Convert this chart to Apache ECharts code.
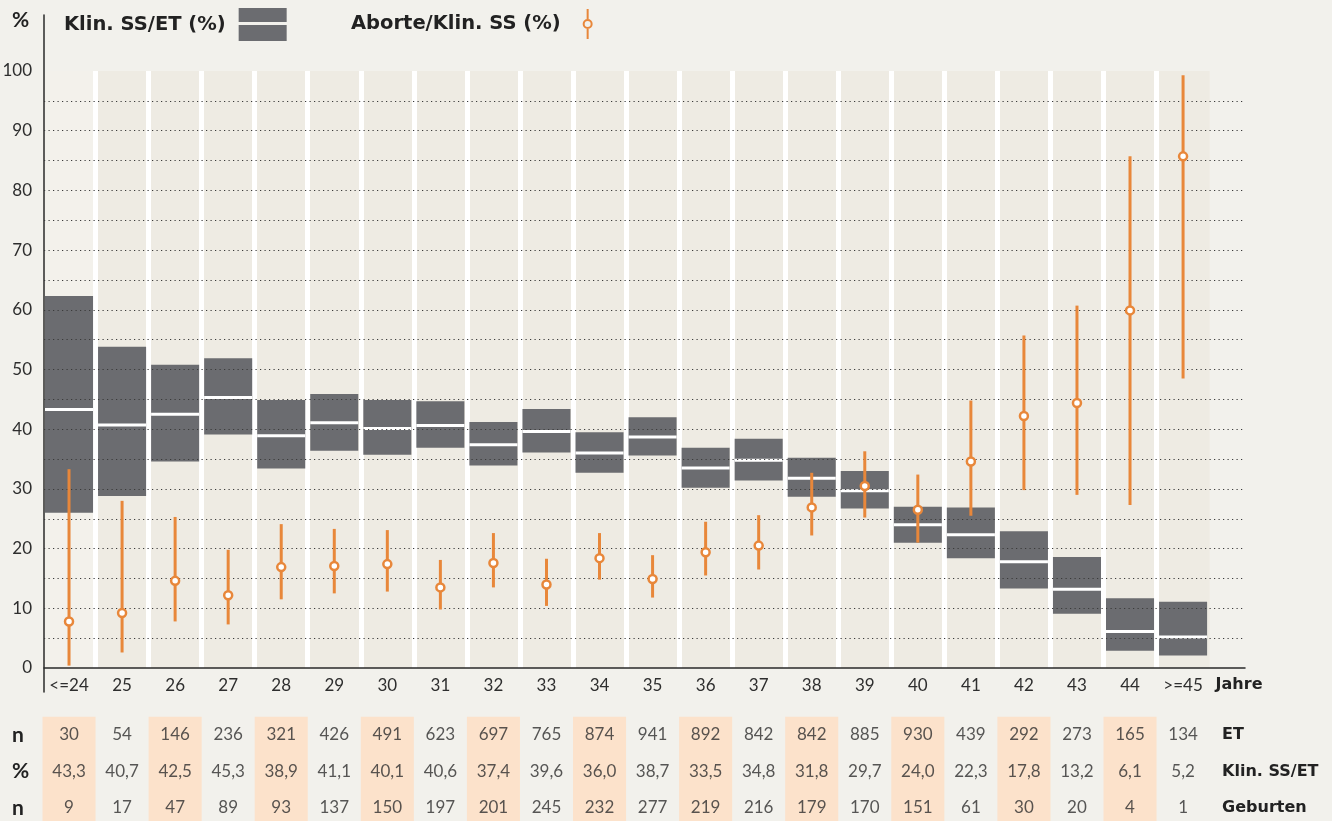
<!DOCTYPE html>
<html lang="de">
<head>
    <meta charset="UTF-8">
    <title>Klin. SS/ET und Aborte nach Alter</title>
    <script src="https://cdn.jsdelivr.net/npm/echarts@6/dist/echarts.min.js"></script>
    <style>
        html, body { margin: 0; padding: 0; background: #f2f1ec; }
        #main { width: 1332px; height: 821px; }
    </style>
</head>
<body>
    <div id="main"></div>
    <script type="text/javascript">
        // Altersgruppen
        var categories = ['<=24', '25', '26', '27', '28', '29', '30', '31', '32', '33', '34',
            '35', '36', '37', '38', '39', '40', '41', '42', '43', '44', '>=45'];

        // Klin. SS/ET (%): Wert und Vertrauensbereich
        var klinMid = [43.3, 40.7, 42.5, 45.3, 38.9, 41.1, 40.1, 40.6, 37.4, 39.6, 36.0,
            38.7, 33.5, 34.8, 31.8, 29.7, 24.0, 22.3, 17.8, 13.2, 6.1, 5.2];
        var klinLow = [26.0, 28.8, 34.6, 39.1, 33.4, 36.4, 35.7, 36.9, 33.9, 36.1, 32.7,
            35.6, 30.2, 31.4, 28.7, 26.7, 21.0, 18.4, 13.3, 9.1, 2.9, 2.1];
        var klinHigh = [62.3, 53.8, 50.8, 51.9, 44.9, 45.9, 44.9, 44.7, 41.2, 43.4, 39.5,
            42.0, 36.9, 38.4, 35.2, 33.0, 27.0, 26.9, 22.9, 18.6, 11.7, 11.1];

        // Aborte/Klin. SS (%)
        var abortVal = [7.8, 9.2, 14.6, 12.2, 16.9, 17.1, 17.4, 13.5, 17.6, 14.0, 18.4,
            14.9, 19.4, 20.5, 26.9, 30.5, 26.5, 34.6, 42.2, 44.4, 59.9, 85.7];
        var abortLow = [0.4, 2.6, 7.8, 7.3, 11.5, 12.5, 12.8, 9.8, 13.5, 10.4, 14.8,
            11.8, 15.5, 16.5, 22.2, 25.2, 21.0, 25.5, 29.8, 29.0, 27.3, 48.5];
        var abortHigh = [33.3, 28.0, 25.3, 19.8, 24.1, 23.3, 23.1, 18.1, 22.6, 18.3, 22.6,
            18.9, 24.5, 25.6, 32.7, 36.3, 32.4, 44.8, 55.7, 60.7, 85.7, 99.3];

        // Tabelle unten
        var etN = [30, 54, 146, 236, 321, 426, 491, 623, 697, 765, 874, 941, 892, 842,
            842, 885, 930, 439, 292, 273, 165, 134];
        var geburtenN = [9, 17, 47, 89, 93, 137, 150, 197, 201, 245, 232, 277, 219, 216,
            179, 170, 151, 61, 30, 20, 4, 1];
        var rowLeft = ['n', '%', 'n'];
        var rowRight = ['ET', 'Klin. SS/ET', 'Geburten'];

        var FONT = 'Lato';
        var BOLD = 'DejaVu Sans';
        var ORANGE = '#e8873a';
        var GRAY = '#6b6c70';
        var TXT = '#2e2e2e';

        var tableRows = [
            etN.map(String),
            klinMid.map(function (v) { return v.toFixed(1).replace('.', ','); }),
            geburtenN.map(String)
        ];
        var tableData = [];
        tableRows.forEach(function (row, r) {
            row.forEach(function (t, i) { tableData.push([i, r, t]); });
        });

        var boxData = categories.map(function (c, i) {
            return [i, klinLow[i], klinHigh[i], klinMid[i]];
        });
        var errData = categories.map(function (c, i) {
            return [i, abortLow[i], abortHigh[i], abortVal[i]];
        });

        function renderBox(params, api) {
            var x = api.value(0);
            var lo = api.coord([x, api.value(1)]);
            var hi = api.coord([x, api.value(2)]);
            var md = api.coord([x, api.value(3)]);
            var w = api.size([1, 0])[0] - 5;
            return {
                type: 'group',
                children: [
                    { type: 'rect', shape: { x: lo[0] - w / 2, y: hi[1], width: w, height: lo[1] - hi[1] }, style: { fill: GRAY } },
                    { type: 'rect', shape: { x: lo[0] - w / 2, y: md[1] - 1.5, width: w, height: 3 }, style: { fill: '#fff' } }
                ]
            };
        }

        function renderErr(params, api) {
            var x = api.value(0);
            var lo = api.coord([x, api.value(1)]);
            var hi = api.coord([x, api.value(2)]);
            var pt = api.coord([x, api.value(3)]);
            return {
                type: 'group',
                children: [
                    { type: 'line', shape: { x1: lo[0], y1: lo[1], x2: hi[0], y2: hi[1] }, style: { stroke: ORANGE, lineWidth: 3 } },
                    { type: 'circle', shape: { cx: pt[0], cy: pt[1], r: 4 }, style: { fill: '#fff', stroke: ORANGE, lineWidth: 2.5 } }
                ]
            };
        }

        var colColors = categories.map(function (c, i) { return i === 0 ? '#f3f1eb' : '#eeebe3'; });

        var myChart = echarts.init(document.getElementById('main'));

        var option = {
            backgroundColor: '#f2f1ec',
            animation: false,
            textStyle: { fontFamily: FONT },
            title: {
                text: '%', left: 12, top: 10, padding: 0,
                textStyle: { fontFamily: FONT, fontSize: 21, fontWeight: 'bold', color: '#222' }
            },
            legend: [{
                data: ['Klin. SS/ET (%)'],
                left: 64, top: 8, padding: 0, align: 'right', selectedMode: false,
                itemWidth: 48, itemHeight: 33,
                icon: 'path://M0,0H48V14H0Z M0,17H48V33H0Z',
                textStyle: { fontFamily: BOLD, fontSize: 19.5, fontWeight: 'bold', color: '#222', padding: [0, 8, 0, 0] }
            }, {
                data: ['Aborte/Klin. SS (%)'],
                left: 351, top: 9, padding: 0, align: 'right', selectedMode: false,
                itemWidth: 10, itemHeight: 30,
                icon: 'path://M4,0H6V10H4Z M0,15A5,5 0 1 1 10,15A5,5 0 1 1 0,15Z M2,15A3,3 0 1 0 8,15A3,3 0 1 0 2,15Z M4,20H6V30H4Z',
                textStyle: { fontFamily: BOLD, fontSize: 19.5, fontWeight: 'bold', color: '#222', padding: [0, 17, 0, 0] }
            }],
            grid: [
                { left: 42.5, right: 122.4, top: 71, bottom: 153, outerBoundsMode: 'none' },   // Daten
                { left: 44, right: 87, top: 71, bottom: 153, outerBoundsMode: 'none' },        // Gitterlinien
                { left: 44, width: 10, top: 15, bottom: 129, outerBoundsMode: 'none' },        // y-Achsenlinie
                { left: 42.5, right: 122.4, top: 716.75, height: 109.5, outerBoundsMode: 'none' } // Tabelle
            ],
            xAxis: [{
                gridIndex: 0, type: 'category', data: categories,
                axisLine: { show: false }, axisTick: { show: false },
                axisLabel: { interval: 0, margin: 9, fontSize: 17, color: TXT, fontFamily: FONT },
                splitArea: { show: true, areaStyle: { color: colColors } },
                splitLine: { show: true, showMinLine: false, showMaxLine: false, lineStyle: { color: '#ffffff', width: 5 } },
                name: 'Jahre', nameLocation: 'end', nameGap: 6,
                nameTextStyle: { fontFamily: BOLD, fontSize: 16, fontWeight: 'bold', color: '#222', verticalAlign: 'top', padding: [9, 0, 0, 0] }
            }, {
                gridIndex: 1, type: 'value', min: 0, max: 1,
                axisLine: { show: true, lineStyle: { color: '#2a2a2a', width: 1.5 } },
                axisTick: { show: false }, axisLabel: { show: false }, splitLine: { show: false }
            }, {
                gridIndex: 2, type: 'value', show: false
            }, {
                gridIndex: 3, type: 'category', data: categories,
                axisLine: { show: false }, axisTick: { show: false }, axisLabel: { show: false },
                splitArea: { show: true, areaStyle: { color: ['#fce2cb', 'rgba(0,0,0,0)'] } },
                splitLine: { show: false }
            }],
            yAxis: [{
                gridIndex: 0, type: 'value', min: 0, max: 100, show: false
            }, {
                gridIndex: 1, type: 'value', min: 0, max: 100, interval: 5, z: 3,
                axisLine: { show: false }, axisTick: { show: false },
                axisLabel: {
                    margin: 12, fontSize: 17, color: TXT, fontFamily: FONT,
                    formatter: function (v) { return v % 10 === 0 ? String(v) : ''; }
                },
                splitLine: { show: true, showMinLine: false, showMaxLine: false, lineStyle: { color: '#3a3a3a', width: 1.2, type: [1.2, 3.3] } }
            }, {
                gridIndex: 2, type: 'value', min: 0, max: 1,
                axisLine: { show: true, lineStyle: { color: '#2a2a2a', width: 1.5 } },
                axisTick: { show: false }, axisLabel: { show: false }, splitLine: { show: false }
            }, {
                gridIndex: 3, type: 'category', data: rowRight, inverse: true, position: 'left',
                axisLine: { show: false }, axisTick: { show: false },
                axisLabel: {
                    align: 'left', margin: 30.5, fontSize: 21, fontWeight: 'bold', color: '#222', fontFamily: FONT,
                    formatter: function (v, i) { return rowLeft[i]; }
                }
            }, {
                gridIndex: 3, type: 'category', data: rowRight, inverse: true, position: 'right',
                axisLine: { show: false }, axisTick: { show: false },
                axisLabel: { align: 'left', margin: 12.5, fontSize: 16, fontWeight: 'bold', color: '#222', fontFamily: BOLD }
            }],
            series: [{
                name: 'Klin. SS/ET (%)',
                type: 'custom', xAxisIndex: 0, yAxisIndex: 0, z: 2,
                itemStyle: { color: GRAY },
                renderItem: renderBox,
                encode: { x: 0, y: [1, 2, 3] },
                data: boxData
            }, {
                name: 'Aborte/Klin. SS (%)',
                type: 'custom', xAxisIndex: 0, yAxisIndex: 0, z: 5,
                itemStyle: { color: ORANGE },
                renderItem: renderErr,
                encode: { x: 0, y: [1, 2, 3] },
                data: errData
            }, {
                name: 'Tabelle',
                type: 'scatter', xAxisIndex: 3, yAxisIndex: 3,
                symbolSize: 1, silent: true,
                itemStyle: { color: 'rgba(0,0,0,0)' },
                label: {
                    show: true, position: 'inside', fontSize: 17, color: TXT, fontFamily: FONT,
                    formatter: function (p) { return p.value[2]; }
                },
                data: tableData
            }]
        };

        myChart.setOption(option);
    </script>
</body>
</html>
